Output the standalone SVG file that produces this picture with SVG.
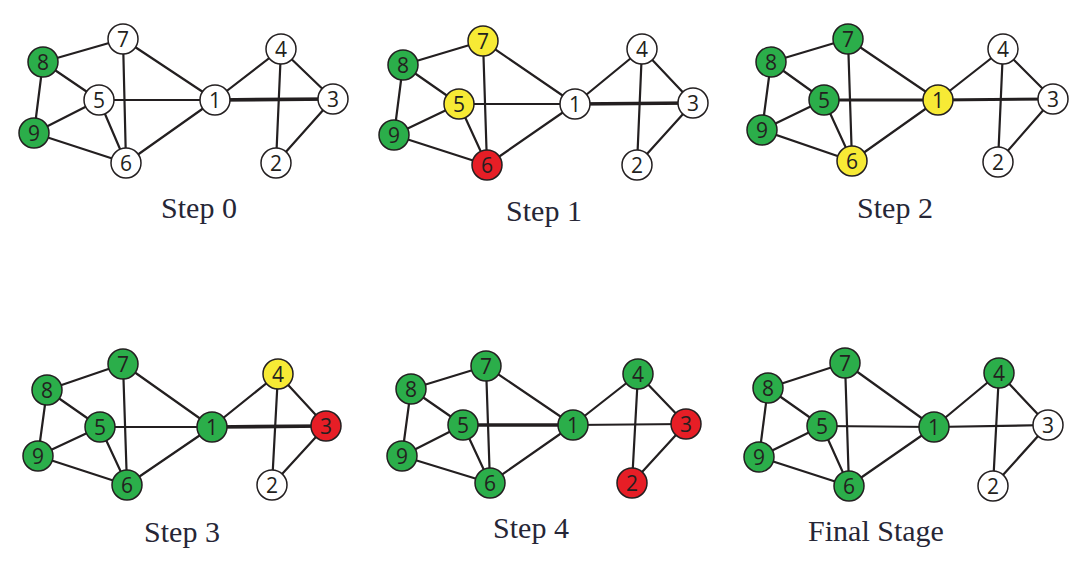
<svg xmlns="http://www.w3.org/2000/svg" width="1076" height="566" viewBox="0 0 1076 566">
  <style>
    .e { stroke: #231f20; stroke-width: 2.2; fill: none; stroke-linecap: round; }
    .ek { stroke: #231f20; stroke-width: 3.6; fill: none; }
    .em { stroke: #231f20; stroke-width: 2.9; fill: none; }
    circle { stroke: #231f20; stroke-width: 1.5; }
    .w { fill: #ffffff; }
    .g { fill: #2bae4a; }
    .y { fill: #f7ea35; }
    .r { fill: #e61e26; }
    .lbl { font-family: "Open Sans", Lato, sans-serif; font-size: 21px; fill: #231f20; text-anchor: middle; }
    .cap { font-family: "Liberation Serif", "DejaVu Serif", serif; font-size: 30px; fill: #262636; text-anchor: middle; }
  </style>

  <!-- connectors -->
  <g id="connectors">
    <!-- Step 0 -->
    <line class="e" x1="43" y1="62" x2="123" y2="39"/>
    <line class="e" x1="43" y1="62" x2="99" y2="100"/>
    <line class="e" x1="43" y1="62" x2="34" y2="133"/>
    <line class="e" x1="34" y1="133" x2="99" y2="100"/>
    <line class="e" x1="34" y1="133" x2="126" y2="163"/>
    <line class="e" x1="99" y1="100" x2="126" y2="163"/>
    <line class="e" x1="123" y1="39" x2="126" y2="163"/>
    <line class="e" x1="123" y1="39" x2="215" y2="100"/>
    <line class="e" x1="99" y1="100" x2="215" y2="100"/>
    <line class="e" x1="126" y1="163" x2="215" y2="100"/>
    <line class="e" x1="215" y1="100" x2="281" y2="49"/>
    <line class="ek" x1="215" y1="100" x2="333" y2="99"/>
    <line class="e" x1="281" y1="49" x2="333" y2="99"/>
    <line class="e" x1="281" y1="49" x2="276" y2="163"/>
    <line class="e" x1="276" y1="163" x2="333" y2="99"/>

    <!-- Step 1 -->
    <line class="e" x1="403" y1="65" x2="483" y2="41"/>
    <line class="e" x1="403" y1="65" x2="459" y2="104"/>
    <line class="e" x1="403" y1="65" x2="394" y2="135"/>
    <line class="e" x1="394" y1="135" x2="459" y2="104"/>
    <line class="e" x1="394" y1="135" x2="487" y2="165"/>
    <line class="e" x1="459" y1="104" x2="487" y2="165"/>
    <line class="e" x1="483" y1="41" x2="487" y2="165"/>
    <line class="e" x1="483" y1="41" x2="575" y2="104"/>
    <line class="e" x1="459" y1="104" x2="575" y2="104"/>
    <line class="e" x1="487" y1="165" x2="575" y2="104"/>
    <line class="e" x1="575" y1="104" x2="642" y2="49"/>
    <line class="ek" x1="575" y1="104" x2="693" y2="103"/>
    <line class="e" x1="642" y1="49" x2="693" y2="103"/>
    <line class="e" x1="642" y1="49" x2="637" y2="165"/>
    <line class="e" x1="637" y1="165" x2="693" y2="103"/>

    <!-- Step 2 -->
    <line class="e" x1="771" y1="62" x2="848" y2="39"/>
    <line class="e" x1="771" y1="62" x2="824" y2="100"/>
    <line class="e" x1="771" y1="62" x2="762" y2="130"/>
    <line class="e" x1="762" y1="130" x2="824" y2="100"/>
    <line class="e" x1="762" y1="130" x2="852" y2="161"/>
    <line class="e" x1="824" y1="100" x2="852" y2="161"/>
    <line class="e" x1="848" y1="39" x2="852" y2="161"/>
    <line class="e" x1="848" y1="39" x2="938" y2="100"/>
    <line class="em" x1="824" y1="100" x2="938" y2="100"/>
    <line class="e" x1="852" y1="161" x2="938" y2="100"/>
    <line class="e" x1="938" y1="100" x2="1003" y2="49"/>
    <line class="em" x1="938" y1="100" x2="1053" y2="99"/>
    <line class="e" x1="1003" y1="49" x2="1053" y2="99"/>
    <line class="e" x1="1003" y1="49" x2="998" y2="162"/>
    <line class="e" x1="998" y1="162" x2="1053" y2="99"/>

    <!-- Step 3 -->
    <line class="e" x1="47" y1="390" x2="123" y2="364"/>
    <line class="e" x1="47" y1="390" x2="100" y2="427"/>
    <line class="e" x1="47" y1="390" x2="38" y2="456"/>
    <line class="e" x1="38" y1="456" x2="100" y2="427"/>
    <line class="e" x1="38" y1="456" x2="127" y2="485"/>
    <line class="e" x1="100" y1="427" x2="127" y2="485"/>
    <line class="e" x1="123" y1="364" x2="127" y2="485"/>
    <line class="e" x1="123" y1="364" x2="212" y2="427"/>
    <line class="e" x1="100" y1="427" x2="212" y2="427"/>
    <line class="e" x1="127" y1="485" x2="212" y2="427"/>
    <line class="e" x1="212" y1="427" x2="278" y2="374"/>
    <line class="ek" x1="212" y1="427" x2="326" y2="426"/>
    <line class="e" x1="278" y1="374" x2="326" y2="426"/>
    <line class="e" x1="278" y1="374" x2="272" y2="485"/>
    <line class="e" x1="272" y1="485" x2="326" y2="426"/>

    <!-- Step 4 -->
    <line class="e" x1="411" y1="389" x2="486" y2="366"/>
    <line class="e" x1="411" y1="389" x2="463" y2="425"/>
    <line class="e" x1="411" y1="389" x2="402" y2="456"/>
    <line class="e" x1="402" y1="456" x2="463" y2="425"/>
    <line class="e" x1="402" y1="456" x2="490" y2="483"/>
    <line class="e" x1="463" y1="425" x2="490" y2="483"/>
    <line class="e" x1="486" y1="366" x2="490" y2="483"/>
    <line class="e" x1="486" y1="366" x2="573" y2="425"/>
    <line class="ek" x1="463" y1="425" x2="573" y2="425"/>
    <line class="e" x1="490" y1="483" x2="573" y2="425"/>
    <line class="e" x1="573" y1="425" x2="638" y2="374"/>
    <line class="e" x1="573" y1="425" x2="686" y2="424"/>
    <line class="e" x1="638" y1="374" x2="686" y2="424"/>
    <line class="e" x1="638" y1="374" x2="632" y2="483"/>
    <line class="e" x1="632" y1="483" x2="686" y2="424"/>

    <!-- Final stage -->
    <line class="e" x1="768" y1="388" x2="845" y2="363"/>
    <line class="e" x1="768" y1="388" x2="822" y2="426"/>
    <line class="e" x1="768" y1="388" x2="759" y2="457"/>
    <line class="e" x1="759" y1="457" x2="822" y2="426"/>
    <line class="e" x1="759" y1="457" x2="849" y2="486"/>
    <line class="e" x1="822" y1="426" x2="849" y2="486"/>
    <line class="e" x1="845" y1="363" x2="849" y2="486"/>
    <line class="e" x1="845" y1="363" x2="934" y2="427"/>
    <line class="e" x1="822" y1="426" x2="934" y2="427"/>
    <line class="e" x1="849" y1="486" x2="934" y2="427"/>
    <line class="e" x1="934" y1="427" x2="999" y2="373"/>
    <line class="e" x1="934" y1="427" x2="1048" y2="425"/>
    <line class="e" x1="999" y1="373" x2="1048" y2="425"/>
    <line class="e" x1="999" y1="373" x2="993" y2="486"/>
    <line class="e" x1="993" y1="486" x2="1048" y2="425"/>
  </g>

  <!-- Step 0 nodes -->
  <g id="s0-n7"><circle class="w" cx="123" cy="39" r="15"/><text class="lbl" x="123" y="46.5">7</text></g>
  <g id="s0-n8"><circle class="g" cx="43" cy="62" r="15"/><text class="lbl" x="43" y="69.5">8</text></g>
  <g id="s0-n5"><circle class="w" cx="99" cy="100" r="15"/><text class="lbl" x="99" y="107.5">5</text></g>
  <g id="s0-n9"><circle class="g" cx="34" cy="133" r="15"/><text class="lbl" x="34" y="140.5">9</text></g>
  <g id="s0-n6"><circle class="w" cx="126" cy="163" r="15"/><text class="lbl" x="126" y="170.5">6</text></g>
  <g id="s0-n1"><circle class="w" cx="215" cy="100" r="15"/><text class="lbl" x="215" y="107.5">1</text></g>
  <g id="s0-n4"><circle class="w" cx="281" cy="49" r="15"/><text class="lbl" x="281" y="56.5">4</text></g>
  <g id="s0-n3"><circle class="w" cx="333" cy="99" r="15"/><text class="lbl" x="333" y="106.5">3</text></g>
  <g id="s0-n2"><circle class="w" cx="276" cy="163" r="15"/><text class="lbl" x="276" y="170.5">2</text></g>
  <text class="cap" x="199" y="218">Step 0</text>

  <!-- Step 1 nodes -->
  <g id="s1-n7"><circle class="y" cx="483" cy="41" r="15"/><text class="lbl" x="483" y="48.5">7</text></g>
  <g id="s1-n8"><circle class="g" cx="403" cy="65" r="15"/><text class="lbl" x="403" y="72.5">8</text></g>
  <g id="s1-n5"><circle class="y" cx="459" cy="104" r="15"/><text class="lbl" x="459" y="111.5">5</text></g>
  <g id="s1-n9"><circle class="g" cx="394" cy="135" r="15"/><text class="lbl" x="394" y="142.5">9</text></g>
  <g id="s1-n6"><circle class="r" cx="487" cy="165" r="15"/><text class="lbl" x="487" y="172.5">6</text></g>
  <g id="s1-n1"><circle class="w" cx="575" cy="104" r="15"/><text class="lbl" x="575" y="111.5">1</text></g>
  <g id="s1-n4"><circle class="w" cx="642" cy="49" r="15"/><text class="lbl" x="642" y="56.5">4</text></g>
  <g id="s1-n3"><circle class="w" cx="693" cy="103" r="15"/><text class="lbl" x="693" y="110.5">3</text></g>
  <g id="s1-n2"><circle class="w" cx="637" cy="165" r="15"/><text class="lbl" x="637" y="172.5">2</text></g>
  <text class="cap" x="544" y="221">Step 1</text>

  <!-- Step 2 nodes -->
  <g id="s2-n7"><circle class="g" cx="848" cy="39" r="15"/><text class="lbl" x="848" y="46.5">7</text></g>
  <g id="s2-n8"><circle class="g" cx="771" cy="62" r="15"/><text class="lbl" x="771" y="69.5">8</text></g>
  <g id="s2-n5"><circle class="g" cx="824" cy="100" r="15"/><text class="lbl" x="824" y="107.5">5</text></g>
  <g id="s2-n9"><circle class="g" cx="762" cy="130" r="15"/><text class="lbl" x="762" y="137.5">9</text></g>
  <g id="s2-n6"><circle class="y" cx="852" cy="161" r="15"/><text class="lbl" x="852" y="168.5">6</text></g>
  <g id="s2-n1"><circle class="y" cx="938" cy="100" r="15"/><text class="lbl" x="938" y="107.5">1</text></g>
  <g id="s2-n4"><circle class="w" cx="1003" cy="49" r="15"/><text class="lbl" x="1003" y="56.5">4</text></g>
  <g id="s2-n3"><circle class="w" cx="1053" cy="99" r="15"/><text class="lbl" x="1053" y="106.5">3</text></g>
  <g id="s2-n2"><circle class="w" cx="998" cy="162" r="15"/><text class="lbl" x="998" y="169.5">2</text></g>
  <text class="cap" x="895" y="218">Step 2</text>

  <!-- Step 3 nodes -->
  <g id="s3-n7"><circle class="g" cx="123" cy="364" r="15"/><text class="lbl" x="123" y="371.5">7</text></g>
  <g id="s3-n8"><circle class="g" cx="47" cy="390" r="15"/><text class="lbl" x="47" y="397.5">8</text></g>
  <g id="s3-n5"><circle class="g" cx="100" cy="427" r="15"/><text class="lbl" x="100" y="434.5">5</text></g>
  <g id="s3-n9"><circle class="g" cx="38" cy="456" r="15"/><text class="lbl" x="38" y="463.5">9</text></g>
  <g id="s3-n6"><circle class="g" cx="127" cy="485" r="15"/><text class="lbl" x="127" y="492.5">6</text></g>
  <g id="s3-n1"><circle class="g" cx="212" cy="427" r="15"/><text class="lbl" x="212" y="434.5">1</text></g>
  <g id="s3-n4"><circle class="y" cx="278" cy="374" r="15"/><text class="lbl" x="278" y="381.5">4</text></g>
  <g id="s3-n3"><circle class="r" cx="326" cy="426" r="15"/><text class="lbl" x="326" y="433.5">3</text></g>
  <g id="s3-n2"><circle class="w" cx="272" cy="485" r="15"/><text class="lbl" x="272" y="492.5">2</text></g>
  <text class="cap" x="182" y="542">Step 3</text>

  <!-- Step 4 nodes -->
  <g id="s4-n7"><circle class="g" cx="486" cy="366" r="15"/><text class="lbl" x="486" y="373.5">7</text></g>
  <g id="s4-n8"><circle class="g" cx="411" cy="389" r="15"/><text class="lbl" x="411" y="396.5">8</text></g>
  <g id="s4-n5"><circle class="g" cx="463" cy="425" r="15"/><text class="lbl" x="463" y="432.5">5</text></g>
  <g id="s4-n9"><circle class="g" cx="402" cy="456" r="15"/><text class="lbl" x="402" y="463.5">9</text></g>
  <g id="s4-n6"><circle class="g" cx="490" cy="483" r="15"/><text class="lbl" x="490" y="490.5">6</text></g>
  <g id="s4-n1"><circle class="g" cx="573" cy="425" r="15"/><text class="lbl" x="573" y="432.5">1</text></g>
  <g id="s4-n4"><circle class="g" cx="638" cy="374" r="15"/><text class="lbl" x="638" y="381.5">4</text></g>
  <g id="s4-n3"><circle class="r" cx="686" cy="424" r="15"/><text class="lbl" x="686" y="431.5">3</text></g>
  <g id="s4-n2"><circle class="r" cx="632" cy="483" r="15"/><text class="lbl" x="632" y="490.5">2</text></g>
  <text class="cap" x="531" y="538">Step 4</text>

  <!-- Final stage nodes -->
  <g id="s5-n7"><circle class="g" cx="845" cy="363" r="15"/><text class="lbl" x="845" y="370.5">7</text></g>
  <g id="s5-n8"><circle class="g" cx="768" cy="388" r="15"/><text class="lbl" x="768" y="395.5">8</text></g>
  <g id="s5-n5"><circle class="g" cx="822" cy="426" r="15"/><text class="lbl" x="822" y="433.5">5</text></g>
  <g id="s5-n9"><circle class="g" cx="759" cy="457" r="15"/><text class="lbl" x="759" y="464.5">9</text></g>
  <g id="s5-n6"><circle class="g" cx="849" cy="486" r="15"/><text class="lbl" x="849" y="493.5">6</text></g>
  <g id="s5-n1"><circle class="g" cx="934" cy="427" r="15"/><text class="lbl" x="934" y="434.5">1</text></g>
  <g id="s5-n4"><circle class="g" cx="999" cy="373" r="15"/><text class="lbl" x="999" y="380.5">4</text></g>
  <g id="s5-n3"><circle class="w" cx="1048" cy="425" r="15"/><text class="lbl" x="1048" y="432.5">3</text></g>
  <g id="s5-n2"><circle class="w" cx="993" cy="486" r="15"/><text class="lbl" x="993" y="493.5">2</text></g>
  <text class="cap" x="876" y="541">Final Stage</text>
</svg>
